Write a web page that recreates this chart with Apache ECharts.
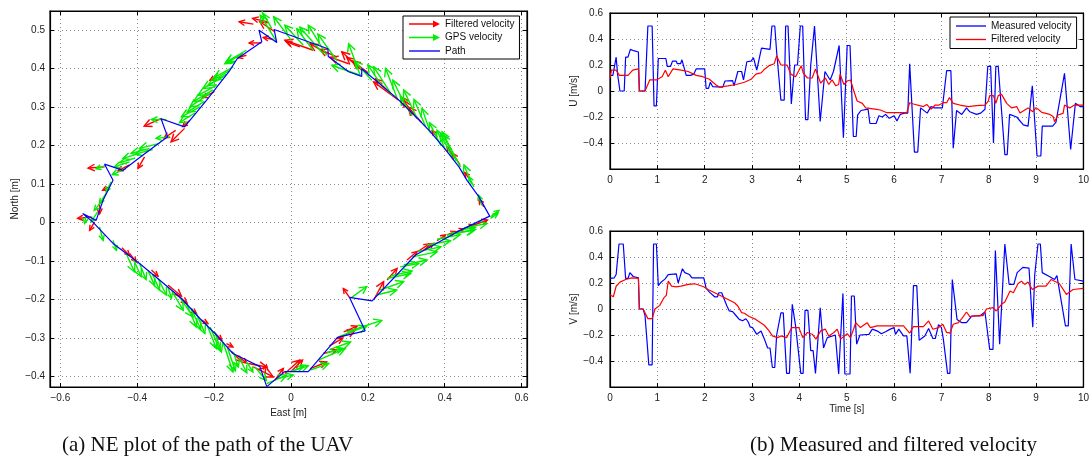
<!DOCTYPE html>
<html><head><meta charset="utf-8">
<script src="https://cdn.jsdelivr.net/npm/echarts@6/dist/echarts.min.js"></script>
<style>html,body{margin:0;padding:0;background:#fff}#c{width:1092px;height:475px}</style>
</head><body><div id="c"></div>
<script>
// ---------- NE plot data (East, North in metres) ----------
const pathEN = [
[-0.063,-0.426],[-0.016,-0.387],[0.045,-0.387],[0.121,-0.298],[0.193,-0.281],[0.152,-0.194],[0.211,-0.203],
[0.324,-0.084],[0.432,-0.024],[0.517,0.017],[0.489,0.067],[0.458,0.11],[0.437,0.145],[0.402,0.19],[0.363,0.236],
[0.33,0.27],[0.276,0.323],[0.184,0.4],[0.184,0.38],[0.15,0.392],[0.097,0.432],[0.096,0.452],[-0.044,0.502],
[-0.037,0.468],[-0.083,0.5],[-0.076,0.47],[-0.14,0.426],[-0.159,0.396],[-0.22,0.318],[-0.277,0.249],[-0.338,0.27],
[-0.321,0.223],[-0.386,0.175],[-0.437,0.136],[-0.485,0.152],[-0.463,0.11],[-0.489,0.058],[-0.507,0.006],
[-0.542,0.024],[-0.516,0.002],[-0.463,-0.054],[-0.394,-0.106],[-0.342,-0.149],[-0.285,-0.197],[-0.237,-0.249],
[-0.194,-0.292],[-0.151,-0.34],[-0.12,-0.355],[-0.081,-0.374],[-0.063,-0.426]
];
// arrows: [east, north, dEast, dNorth]
const filteredArrows = [
[0.502,0.041,-0.013,0.019],[0.463,0.115,-0.011,0.015],[0.423,0.171,-0.017,0.026],[0.38,0.223,-0.013,0.016],
[0.44,0.15,-0.02,0.03],[0.34,0.26,-0.035,0.04],[0.2,0.39,-0.04,0.03],[0.12,0.43,-0.045,0.02],
[0.328,0.271,-0.043,0.056],[0.315,0.279,-0.022,0.039],[0.28,0.318,-0.065,0.048],[0.25,0.344,-0.03,0.03],
[0.184,0.396,-0.052,0.048],[0.18,0.4,-0.035,0.03],[0.15,0.413,-0.048,0.017],[0.093,0.439,-0.043,0.026],
[0.058,0.448,-0.074,0.026],[0.023,0.457,-0.035,0.013],[-0.042,0.496,-0.039,0.026],
[-0.098,0.516,-0.037,0.006],[-0.063,0.522,-0.037,0.009],[-0.077,0.467,-0.032,0],[-0.046,0.476,-0.026,0.005],
[-0.116,0.435,-0.022,-0.006],[-0.194,0.379,-0.017,-0.009],[-0.2,0.34,-0.03,-0.015],[-0.3,0.24,-0.03,-0.02],
[-0.42,0.15,-0.03,-0.015],[-0.263,0.266,-0.019,-0.016],[-0.277,0.245,-0.035,-0.035],
[-0.337,0.271,-0.045,-0.02],[-0.381,0.171,-0.017,-0.03],[-0.485,0.145,-0.043,-0.003],[-0.473,0.093,-0.017,-0.009],
[-0.498,0.058,0,-0.035],[-0.52,0.015,-0.035,-0.004],
[-0.511,0.002,-0.013,-0.022],[-0.44,-0.065,0.02,-0.02],[-0.42,-0.08,0.017,-0.022],[-0.363,-0.123,0.017,-0.016],
[-0.32,-0.162,0.035,-0.029],[-0.3,-0.185,0.03,-0.025],[-0.259,-0.226,0.013,-0.01],[-0.233,-0.253,0.017,-0.009],
[-0.2,-0.285,0.02,-0.02],[-0.168,-0.314,0.017,-0.009],[-0.155,-0.335,0.026,-0.026],[-0.14,-0.345,0.025,-0.02],
[-0.111,-0.366,0.048,-0.009],[-0.098,-0.375,0.052,-0.026],
[-0.068,-0.392,0.004,0.022],[-0.042,-0.409,0.022,0.03],[-0.016,-0.392,0.039,0.035],[0.0,-0.387,0.03,0.03],
[0.05,-0.379,0.043,0.017],[0.084,-0.34,0.035,0.009],[0.1,-0.32,0.035,0.02],[0.121,-0.301,0.046,0.022],
[0.137,-0.284,0.035,0.015],[0.152,-0.194,-0.016,0.023],[0.215,-0.201,0.026,0.048],[0.25,-0.149,0.026,0.03],
[0.302,-0.097,0.026,0.022],[0.33,-0.075,0.03,0.02],[0.345,-0.071,0.026,0.017],[0.38,-0.047,0.022,0.015],
[0.406,-0.032,0.022,0.009],[0.42,-0.028,0.03,0.012],[0.45,-0.015,0.026,0.009],[0.476,-0.006,0.035,0.013]
];
const gpsArrows = [
[0.519,0.015,0.022,0.017],[0.519,0.011,0.019,0.013],[0.497,0.045,-0.009,0.026],[0.476,0.093,-0.013,0.026],
[0.47,0.1,-0.02,0.05],[0.43,0.16,-0.035,0.07],[0.39,0.2,-0.03,0.06],[0.35,0.25,-0.03,0.07],[0.3,0.3,-0.035,0.07],
[0.24,0.35,-0.04,0.06],[0.21,0.37,-0.045,0.05],[0.12,0.42,-0.05,0.07],[0.0,0.475,-0.045,0.06],
[0.441,0.145,-0.048,0.091],[0.419,0.171,-0.03,0.061],[0.402,0.188,-0.022,0.052],[0.363,0.232,-0.022,0.065],
[0.328,0.271,-0.035,0.074],[0.315,0.279,-0.03,0.048],[0.276,0.323,-0.03,0.078],[0.263,0.331,-0.048,0.074],
[0.18,0.383,-0.03,0.082],[0.18,0.383,-0.074,0.026],[0.093,0.435,-0.048,0.078],[0.084,0.439,-0.061,0.069],
[0.058,0.448,-0.043,0.056],[0.032,0.461,-0.048,0.052],[-0.037,0.47,-0.043,0.069],
[-0.072,0.539,-0.01,0.032],[-0.05,0.504,-0.022,0.039],[-0.116,0.448,-0.052,-0.03],[-0.133,0.435,-0.039,-0.022],
[-0.125,0.44,-0.045,-0.025],[-0.15,0.405,-0.05,-0.028],[-0.168,0.386,-0.048,-0.03],[-0.203,0.345,-0.05,-0.03],
[-0.225,0.315,-0.045,-0.028],[-0.25,0.285,-0.04,-0.025],[-0.36,0.19,-0.045,-0.012],[-0.405,0.168,-0.04,-0.012],
[-0.43,0.14,-0.035,-0.015],
[-0.159,0.396,-0.043,-0.026],[-0.177,0.379,-0.052,-0.03],[-0.194,0.357,-0.048,-0.026],[-0.211,0.336,-0.052,-0.035],
[-0.237,0.301,-0.048,-0.026],[-0.324,0.268,-0.039,0],[-0.316,0.223,-0.035,-0.004],[-0.342,0.206,-0.052,-0.013],
[-0.368,0.193,-0.048,-0.013],[-0.394,0.18,-0.043,-0.013],[-0.42,0.158,-0.039,-0.013],[-0.481,0.149,-0.026,-0.009],
[-0.468,0.106,-0.013,-0.026],[-0.481,0.076,-0.017,-0.026],[-0.49,0.058,-0.022,-0.026],[-0.503,0.028,-0.017,-0.026],
[-0.533,0.02,-0.004,-0.022],
[-0.498,-0.011,0.009,-0.035],[-0.463,-0.046,0.009,-0.026],[-0.429,-0.08,0.022,-0.048],[-0.41,-0.095,0.02,-0.045],
[-0.394,-0.106,0.017,-0.042],[-0.372,-0.124,0.017,-0.039],[-0.36,-0.135,0.018,-0.04],[-0.346,-0.145,0.022,-0.043],
[-0.32,-0.167,0.009,-0.03],[-0.31,-0.178,0.03,-0.05],[-0.29,-0.193,0.035,-0.052],[-0.272,-0.21,0.026,-0.061],
[-0.26,-0.222,0.025,-0.055],[-0.246,-0.236,0.022,-0.052],[-0.22,-0.262,0.026,-0.065],[-0.21,-0.272,0.025,-0.06],
[-0.198,-0.284,0.017,-0.052],[-0.177,-0.31,0.026,-0.078],[-0.165,-0.325,0.02,-0.06],[-0.15,-0.336,0.013,-0.039],
[-0.135,-0.35,0.02,-0.04],[-0.116,-0.362,0.017,-0.026],[-0.094,-0.375,0.03,-0.035],
[-0.063,-0.418,0.052,0.022],[-0.037,-0.405,0.043,0.009],[-0.003,-0.387,0.035,0.013],[0.0,-0.387,0.045,0.015],
[0.05,-0.383,0.048,0.017],[0.071,-0.357,0.07,0.03],[0.093,-0.338,0.043,0.011],[0.1,-0.33,0.055,0.02],
[0.123,-0.297,0.074,0.028],[0.145,-0.284,0.091,0.03],[0.158,-0.194,0.039,0.028],[0.223,-0.188,0.052,0.013],
[0.232,-0.175,0.061,0.022],[0.25,-0.145,0.061,0.013],[0.26,-0.138,0.055,0.012],[0.284,-0.115,0.048,0.009],
[0.293,-0.11,0.061,0.013],[0.315,-0.089,0.065,0.013],[0.33,-0.075,0.06,0.012],[0.354,-0.058,0.061,0.011],
[0.38,-0.043,0.06,0.012],[0.406,-0.032,0.07,0.013],[0.42,-0.028,0.06,0.01],[0.441,-0.019,0.039,0.007],
[0.46,-0.012,0.05,0.01]
];
const neXTicks = [-0.6,-0.4,-0.2,0,0.2,0.4,0.6];
const neYTicks = [-0.4,-0.3,-0.2,-0.1,0,0.1,0.2,0.3,0.4,0.5];

// ---------- time series [time s, value m/s] ----------
const uMeasured = [
[0,0.12],[0.06,0.12],[0.13,0.26],[0.16,0.13],[0.21,0],[0.3,0],[0.33,0.26],[0.38,0.26],[0.43,0.32],[0.5,0.31],[0.6,0.3],
[0.62,0],[0.74,0],[0.8,0.5],[0.89,0.5],[0.93,-0.115],[0.98,-0.115],[1.02,0.25],[1.18,0.25],[1.21,0.19],[1.28,0.19],
[1.32,0.23],[1.40,0.23],[1.42,0.21],[1.49,0.21],[1.52,0.24],[1.61,0.12],[1.7,0.12],[1.77,0.13],[1.82,0.17],[2.0,0.17],
[2.03,0.02],[2.08,0.02],[2.12,0.067],[2.17,0.033],[2.38,0.03],[2.43,0.077],[2.59,0.08],[2.62,0.04],[2.70,0.15],
[2.78,0.15],[2.82,0.085],[2.89,0.225],[2.98,0.23],[3.03,0.256],[3.1,0.16],[3.2,0.33],[3.38,0.32],[3.42,0.5],[3.48,0.5],
[3.52,0.3],[3.61,-0.07],[3.68,-0.07],[3.71,0.5],[3.76,0.5],[3.83,-0.1],[3.9,0.2],[3.96,0.2],[4.02,0.5],[4.07,0.5],
[4.13,-0.22],[4.18,-0.22],[4.24,0.2],[4.32,0.5],[4.36,0.5],[4.44,-0.235],[4.48,-0.235],[4.54,0.15],[4.65,0.085],
[4.72,0.15],[4.84,0.35],[4.87,0.35],[4.93,-0.36],[5.01,0.35],[5.07,0.35],[5.14,-0.35],[5.2,-0.35],[5.23,-0.185],
[5.3,-0.15],[5.45,-0.14],[5.49,-0.25],[5.62,-0.25],[5.68,-0.19],[5.75,-0.2],[5.82,-0.18],[5.9,-0.21],[6.0,-0.19],
[6.06,-0.23],[6.13,-0.18],[6.22,-0.17],[6.29,-0.17],[6.33,0.21],[6.43,-0.47],[6.5,-0.47],[6.56,-0.13],[6.7,-0.17],
[6.78,-0.12],[6.85,-0.13],[7.02,-0.13],[7.11,0.156],[7.2,0.156],[7.25,-0.44],[7.32,-0.15],[7.43,-0.18],[7.53,-0.13],
[7.6,-0.16],[7.74,-0.18],[7.83,-0.17],[7.92,-0.14],[7.98,0.19],[8.04,0.19],[8.1,-0.4],[8.15,0.19],[8.2,0.19],
[8.34,-0.49],[8.39,-0.49],[8.44,-0.18],[8.59,-0.2],[8.73,-0.26],[8.83,-0.27],[8.92,0.04],[9.02,-0.5],[9.1,-0.5],
[9.13,-0.27],[9.35,-0.27],[9.42,-0.24],[9.6,0.136],[9.64,0.136],[9.73,-0.45],[9.77,-0.45],[9.83,-0.095],[9.93,-0.12],[10,-0.12]
];
const uFiltered = [
[0,0.1],[0.03,0.16],[0.13,0.16],[0.2,0.12],[0.38,0.12],[0.48,0.16],[0.6,0.17],[0.62,0],[0.74,0],[0.84,0.085],[0.98,0.085],
[1.1,0.11],[1.17,0.16],[1.23,0.11],[1.33,0.17],[1.5,0.16],[1.65,0.15],[1.82,0.12],[1.96,0.11],[2.1,0.09],[2.24,0.046],
[2.31,0.03],[2.49,0.04],[2.66,0.05],[2.84,0.067],[2.98,0.09],[3.08,0.13],[3.19,0.14],[3.27,0.17],[3.36,0.195],[3.47,0.21],
[3.52,0.27],[3.61,0.2],[3.74,0.2],[3.82,0.13],[3.92,0.11],[4.04,0.195],[4.08,0.14],[4.17,0.1],[4.27,0.1],[4.34,0.17],
[4.38,0.16],[4.45,0.06],[4.55,0.1],[4.62,0.05],[4.69,0.085],[4.77,0.04],[4.83,0.05],[4.86,0.13],[4.9,0.13],[4.94,0.05],
[5.01,0.077],[5.08,0.085],[5.15,0],[5.22,-0.077],[5.33,-0.095],[5.4,-0.13],[5.6,-0.14],[5.71,-0.146],[5.85,-0.167],
[6.27,-0.167],[6.33,-0.09],[6.41,-0.1],[6.62,-0.12],[6.69,-0.103],[6.78,-0.14],[6.87,-0.108],[6.95,-0.108],[7.04,-0.09],
[7.11,-0.09],[7.17,-0.05],[7.25,-0.095],[7.39,-0.108],[7.57,-0.12],[7.74,-0.113],[7.92,-0.108],[7.99,-0.077],[8.02,-0.036],
[8.1,-0.036],[8.15,-0.095],[8.2,-0.036],[8.27,-0.026],[8.38,-0.095],[8.48,-0.13],[8.59,-0.12],[8.66,-0.17],[8.83,-0.13],
[8.93,-0.159],[9.0,-0.128],[9.12,-0.164],[9.29,-0.18],[9.36,-0.197],[9.39,-0.236],[9.46,-0.185],[9.57,-0.172],[9.6,-0.108],
[9.71,-0.13],[9.81,-0.108],[10,-0.108]
];
const vMeasured = [
[0,0.235],[0.09,0.24],[0.13,0.265],[0.19,0.5],[0.28,0.5],[0.33,0.235],[0.38,0.235],[0.42,0.28],[0.49,0.25],[0.52,0.24],
[0.6,0.24],[0.62,0],[0.7,0],[0.74,-0.05],[0.82,-0.43],[0.89,-0.43],[0.92,0.5],[0.98,0.5],[1.02,0.18],[1.09,0.21],
[1.16,0.23],[1.23,0.265],[1.40,0.27],[1.44,0.2],[1.48,0.2],[1.53,0.31],[1.58,0.28],[1.68,0.265],[1.73,0.24],[1.98,0.24],
[2.03,0.16],[2.1,0.13],[2.21,0.094],[2.27,0.094],[2.3,0.125],[2.36,0.125],[2.4,0.087],[2.47,0.023],[2.52,-0.015],
[2.59,-0.02],[2.66,-0.05],[2.73,-0.08],[2.8,-0.09],[2.87,-0.075],[2.92,-0.1],[2.96,-0.138],[3.01,-0.143],[3.1,-0.195],
[3.19,-0.17],[3.26,-0.23],[3.33,-0.3],[3.38,-0.3],[3.43,-0.45],[3.48,-0.45],[3.52,-0.2],[3.61,-0.03],[3.66,-0.03],
[3.73,-0.495],[3.79,-0.495],[3.85,0.036],[3.92,-0.13],[3.96,-0.13],[4.03,-0.495],[4.08,-0.495],[4.12,-0.01],[4.18,-0.01],
[4.24,-0.32],[4.29,-0.32],[4.34,-0.495],[4.38,-0.495],[4.44,0.01],[4.48,0.01],[4.51,-0.3],[4.55,-0.3],[4.59,-0.22],
[4.76,-0.2],[4.8,-0.21],[4.83,-0.5],[4.87,-0.5],[4.92,0.12],[4.96,-0.5],[5.07,-0.5],[5.1,0.1],[5.16,0.1],[5.21,-0.27],
[5.28,-0.2],[5.47,-0.195],[5.54,-0.155],[5.65,-0.17],[5.73,-0.19],[5.82,-0.175],[5.92,-0.155],[6.0,-0.143],[6.03,-0.195],
[6.1,-0.155],[6.2,-0.207],[6.27,-0.207],[6.34,-0.495],[6.41,0.18],[6.48,0.18],[6.53,-0.24],[6.58,-0.227],[6.65,-0.207],
[6.73,-0.15],[6.82,-0.227],[6.87,-0.227],[6.94,-0.12],[7.0,-0.143],[7.04,-0.23],[7.13,-0.495],[7.18,-0.495],[7.23,0.227],
[7.27,0.227],[7.33,-0.08],[7.43,-0.105],[7.53,-0.105],[7.64,-0.054],[7.81,-0.054],[7.92,-0.023],[7.96,-0.023],[8.02,-0.31],
[8.09,-0.31],[8.14,0.45],[8.18,0.45],[8.23,-0.27],[8.27,-0.27],[8.34,0.5],[8.37,0.5],[8.43,0.19],[8.53,0.19],[8.6,0.28],
[8.72,0.32],[8.85,0.315],[8.93,-0.14],[8.97,0.26],[9.04,0.5],[9.09,0.5],[9.13,0.28],[9.28,0.25],[9.39,0.227],[9.44,0.257],
[9.62,-0.13],[9.68,-0.13],[9.74,0.5],[9.78,0.5],[9.82,0.227],[10,0.214]
];
const vFiltered = [
[0,0.11],[0.07,0.094],[0.13,0.175],[0.21,0.207],[0.33,0.227],[0.46,0.24],[0.6,0.235],[0.62,0],[0.7,0],[0.8,-0.074],
[0.89,-0.074],[0.95,0],[1.05,0.028],[1.14,0.087],[1.19,0.105],[1.23,0.214],[1.3,0.176],[1.4,0.17],[1.5,0.176],[1.65,0.19],
[1.79,0.194],[1.98,0.171],[2.07,0.15],[2.21,0.125],[2.35,0.1],[2.42,0.087],[2.63,0.048],[2.7,0.023],[2.78,-0.028],
[2.84,-0.033],[2.94,-0.058],[3.08,-0.08],[3.26,-0.125],[3.36,-0.168],[3.43,-0.207],[3.54,-0.22],[3.61,-0.207],[3.73,-0.22],
[3.84,-0.143],[3.99,-0.143],[4.07,-0.22],[4.17,-0.181],[4.27,-0.194],[4.35,-0.232],[4.45,-0.168],[4.55,-0.155],[4.62,-0.207],
[4.73,-0.181],[4.8,-0.155],[4.87,-0.232],[5.01,-0.19],[5.08,-0.22],[5.15,-0.15],[5.19,-0.105],[5.29,-0.143],[5.43,-0.105],
[5.5,-0.143],[5.64,-0.13],[6.2,-0.13],[6.33,-0.186],[6.41,-0.135],[6.62,-0.135],[6.73,-0.092],[6.82,-0.156],[6.94,-0.143],
[7.03,-0.117],[7.11,-0.18],[7.18,-0.186],[7.25,-0.117],[7.36,-0.105],[7.43,-0.074],[7.53,-0.023],[7.6,-0.059],[7.74,-0.051],
[7.88,-0.051],[7.95,0],[8.09,0.01],[8.16,-0.015],[8.27,0.036],[8.34,0.054],[8.45,0.138],[8.52,0.125],[8.62,0.196],
[8.69,0.214],[8.76,0.189],[8.83,0.207],[8.92,0.15],[9.04,0.176],[9.21,0.176],[9.32,0.227],[9.39,0.214],[9.49,0.196],
[9.64,0.112],[9.78,0.15],[10,0.158]
];

const FONT = 'Liberation Sans';
const minus = v => String(v).replace('-', '\u2212');
const lab = {fontFamily: FONT, fontSize: 10, color: '#222', formatter: minus};
const axLine = {show: true, onZero: false, lineStyle: {color: '#000', width: 1.2}};
const dotted = {show: true, lineStyle: {color: '#8a8a8a', type: [1, 3], width: 1}};
const tickIn = {show: true, inside: true, length: 4, lineStyle: {color: '#000', width: 1}};

function arrowRender(color) {
  return function (params, api) {
    const e = api.value(0), n = api.value(1), de = api.value(2), dn = api.value(3);
    const p0 = api.coord([e, n]);
    const p1 = api.coord([e + de, n + dn]);
    const dx = p1[0] - p0[0], dy = p1[1] - p0[1];
    const L = Math.hypot(dx, dy) || 1;
    const ux = dx / L, uy = dy / L;
    const h = Math.min(8, Math.max(5, L * 0.4)), w = h * 0.5;
    const bx = p1[0] - ux * h, by = p1[1] - uy * h;
    return {type: 'group', children: [
      {type: 'line', shape: {x1: p0[0], y1: p0[1], x2: p1[0], y2: p1[1]}, style: {stroke: color, lineWidth: 1.4}},
      {type: 'polyline', shape: {points: [[bx - uy * w, by + ux * w], [p1[0], p1[1]], [bx + uy * w, by - ux * w]]},
       style: {stroke: color, fill: null, lineWidth: 1.4}}
    ]};
  };
}

const gridBox = {show: true, borderColor: '#000', borderWidth: 1.2, containLabel: false, backgroundColor: '#fff'};
const arrowIcon = 'path://M0,4.3 L24,4.3 L24,1.5 L31,5 L24,8.5 L24,5.7 L0,5.7 Z';
const lineIcon = 'path://M0,0 L30,0 L30,1.3 L0,1.3 Z';
const nameStyle = {fontFamily: FONT, fontSize: 10, color: '#222'};

function timeX(gi, showName) {
  return [
    {type: 'value', gridIndex: gi, min: 0, max: 10, interval: 1, axisLine: axLine, axisTick: tickIn,
     axisLabel: Object.assign({}, lab, {margin: 6}), splitLine: dotted,
     name: showName ? 'Time [s]' : '', nameLocation: 'middle', nameGap: 17, nameTextStyle: nameStyle},
    {type: 'value', gridIndex: gi, position: 'top', min: 0, max: 10, interval: 1, axisLine: axLine,
     axisTick: tickIn, axisLabel: {show: false}, splitLine: {show: false}}
  ];
}
function velY(gi, name) {
  return [
    {type: 'value', gridIndex: gi, min: -0.6, max: 0.6, interval: 0.2, axisLine: axLine, axisTick: tickIn,
     axisLabel: Object.assign({}, lab, {margin: 7, showMinLabel: false, formatter: v => minus(Math.round(v * 10) / 10)}),
     splitLine: dotted, name: name, nameLocation: 'middle', nameGap: 30, nameTextStyle: nameStyle},
    {type: 'value', gridIndex: gi, position: 'right', min: -0.6, max: 0.6, interval: 0.2, axisLine: axLine,
     axisTick: tickIn, axisLabel: {show: false}, splitLine: {show: false}}
  ];
}

const option = {
  animation: false,
  backgroundColor: '#fff',
  grid: [
    Object.assign({left: 50, top: 11, width: 477, height: 376}, gridBox),
    Object.assign({left: 610, top: 13, width: 476, height: 156}, gridBox),
    Object.assign({left: 610, top: 231, width: 476, height: 156}, gridBox)
  ],
  xAxis: [
    {type: 'value', gridIndex: 0, min: -0.627, max: 0.614, axisLine: axLine,
     axisTick: Object.assign({customValues: neXTicks}, tickIn),
     axisLabel: Object.assign({customValues: neXTicks, margin: 6}, lab),
     splitLine: Object.assign({customValues: neXTicks}, dotted),
     name: 'East [m]', nameLocation: 'middle', nameGap: 18, nameTextStyle: nameStyle},
    {type: 'value', gridIndex: 0, position: 'top', min: -0.627, max: 0.614, axisLine: axLine,
     axisTick: Object.assign({customValues: neXTicks}, tickIn), axisLabel: {show: false}, splitLine: {show: false}},
    ...timeX(1, false),
    ...timeX(2, true)
  ],
  yAxis: [
    {type: 'value', gridIndex: 0, min: -0.427, max: 0.55, axisLine: axLine,
     axisTick: Object.assign({customValues: neYTicks}, tickIn),
     axisLabel: Object.assign({customValues: neYTicks, margin: 5}, lab),
     splitLine: Object.assign({customValues: neYTicks}, dotted),
     name: 'North [m]', nameLocation: 'middle', nameGap: 30, nameTextStyle: nameStyle},
    {type: 'value', gridIndex: 0, position: 'right', min: -0.427, max: 0.55, axisLine: axLine,
     axisTick: Object.assign({customValues: neYTicks}, tickIn), axisLabel: {show: false}, splitLine: {show: false}},
    ...velY(1, 'U [m/s]'),
    ...velY(2, 'V [m/s]')
  ],
  legend: [
    {left: 403, top: 16, orient: 'vertical', itemWidth: 31, itemHeight: 9, itemGap: 1.5,
     padding: [2, 5, 2, 6], backgroundColor: '#fff', borderColor: '#000', borderWidth: 1,
     textStyle: {fontFamily: FONT, fontSize: 10, color: '#111', lineHeight: 12},
     selectedMode: false,
     data: [
       {name: 'Filtered velocity', icon: arrowIcon, itemStyle: {color: '#ff0000'}},
       {name: 'GPS velocity', icon: arrowIcon, itemStyle: {color: '#00ee00'}},
       {name: 'Path', icon: lineIcon, itemStyle: {color: '#0000ff'}}
     ]},
    {left: 950, top: 17, orient: 'vertical', itemWidth: 30, itemHeight: 9, itemGap: 1.5,
     padding: [3, 5, 3, 6], backgroundColor: '#fff', borderColor: '#000', borderWidth: 1,
     textStyle: {fontFamily: FONT, fontSize: 10, color: '#111', lineHeight: 12},
     selectedMode: false,
     data: [
       {name: 'Measured velocity', icon: lineIcon, itemStyle: {color: '#0000ff'}},
       {name: 'Filtered velocity', icon: lineIcon, itemStyle: {color: '#ff0000'}}
     ]}
  ],
  series: [
    {type: 'custom', name: 'Filtered velocity', xAxisIndex: 0, yAxisIndex: 0, data: filteredArrows,
     encode: {x: 0, y: 1}, renderItem: arrowRender('#ff0000'), itemStyle: {color: '#ff0000'}, clip: true, z: 3},
    {type: 'custom', name: 'GPS velocity', xAxisIndex: 0, yAxisIndex: 0, data: gpsArrows,
     encode: {x: 0, y: 1}, renderItem: arrowRender('#00ee00'), itemStyle: {color: '#00ee00'}, clip: true, z: 4},
    {type: 'line', name: 'Path', xAxisIndex: 0, yAxisIndex: 0, data: pathEN, showSymbol: false, symbol: 'none',
     lineStyle: {color: '#0000ff', width: 1.2}, itemStyle: {color: '#0000ff'}, z: 5},
    {type: 'line', name: 'Measured velocity', xAxisIndex: 2, yAxisIndex: 2, data: uMeasured, symbol: 'none',
     lineStyle: {color: '#0000ff', width: 1.2}, itemStyle: {color: '#0000ff'}, z: 3},
    {type: 'line', name: 'Filtered velocity', xAxisIndex: 2, yAxisIndex: 2, data: uFiltered, symbol: 'none',
     lineStyle: {color: '#ff0000', width: 1.2}, itemStyle: {color: '#ff0000'}, z: 4},
    {type: 'line', name: 'Measured velocity', xAxisIndex: 4, yAxisIndex: 4, data: vMeasured, symbol: 'none',
     lineStyle: {color: '#0000ff', width: 1.2}, itemStyle: {color: '#0000ff'}, z: 3},
    {type: 'line', name: 'Filtered velocity', xAxisIndex: 4, yAxisIndex: 4, data: vFiltered, symbol: 'none',
     lineStyle: {color: '#ff0000', width: 1.2}, itemStyle: {color: '#ff0000'}, z: 4}
  ],
  graphic: [
    {type: 'text', left: 62, top: 435, style: {text: '(a) NE plot of the path of the UAV',
      font: '21px "Liberation Serif"', fill: '#111'}},
    {type: 'text', left: 750, top: 435, style: {text: '(b) Measured and filtered velocity',
      font: '21px "Liberation Serif"', fill: '#111'}}
  ]
};
const chart = echarts.init(document.getElementById('c'), null, {renderer: 'canvas'});
chart.setOption(option);
</script></body></html>
